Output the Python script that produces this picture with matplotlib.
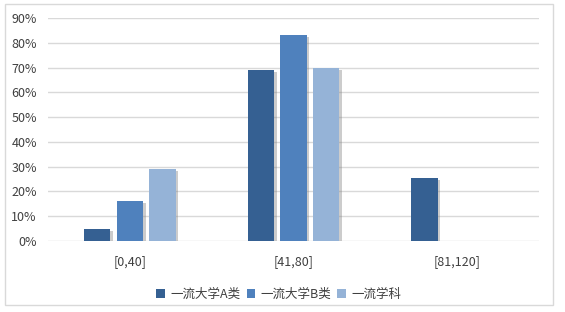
import matplotlib
matplotlib.use('Agg')
import matplotlib.pyplot as plt
import matplotlib.patheffects as pe
from matplotlib.ticker import PercentFormatter
from matplotlib.patches import Rectangle
import numpy as np

plt.rcParams['font.family'] = ['Noto Sans CJK SC', 'DejaVu Sans']

categories = ['[0,40]', '[41,80]', '[81,120]']
series_names = ['一流大学A类', '一流大学B类', '一流学科']
series_a = [0.05, 0.69, 0.255]
series_b = [0.16, 0.83, np.nan]
series_c = [0.29, 0.70, np.nan]
colors = ['#356092', '#4F81BD', '#95B3D7']

fig = plt.figure(figsize=(5.65, 3.12), dpi=100)
ax = fig.add_axes([48 / 565, 1 - 241 / 312, (539 - 48) / 565, (241 - 18) / 312])

# outer frame around the whole chart
fig.patches.append(Rectangle((5 / 565, 1 - 305 / 312), 548 / 565, 301 / 312,
                             transform=fig.transFigure, fill=False,
                             edgecolor='#D9D9D9', linewidth=1))

x = np.arange(len(categories))
width = 0.16
step = 0.2
shadow = [pe.SimplePatchShadow(offset=(2, -1.5), shadow_rgbFace='#808080', alpha=0.4), pe.Normal()]
for i, (vals, name) in enumerate(zip([series_a, series_b, series_c], series_names)):
    bars = ax.bar(x + (i - 1) * step, vals, width, color=colors[i], label=name, zorder=3)
    for b in bars:
        b.set_path_effects(shadow)

ax.set_xlim(-0.5, 2.5)
ax.set_ylim(0, 0.9)
ax.set_yticks(np.arange(0, 0.91, 0.1))
ax.yaxis.set_major_formatter(PercentFormatter(1.0, decimals=0))
ax.set_xticks(x)
ax.set_xticklabels(categories)
ax.grid(axis='y', color='#D9D9D9', linewidth=1, zorder=0)
for s in ax.spines.values():
    s.set_visible(False)
ax.tick_params(length=0, labelsize=9, colors='#404040')
ax.tick_params(axis='y', pad=8)
ax.tick_params(axis='x', pad=10)

leg = ax.legend(loc='upper center', bbox_to_anchor=(0.47, -0.16), ncol=3, frameon=False,
                fontsize=9, handlelength=0.7, handleheight=0.7, handletextpad=0.4,
                columnspacing=0.5)
for h in leg.legend_handles:
    h.set_path_effects([])
for t in leg.get_texts():
    t.set_color('#404040')

fig.savefig('out.png', dpi=100)
